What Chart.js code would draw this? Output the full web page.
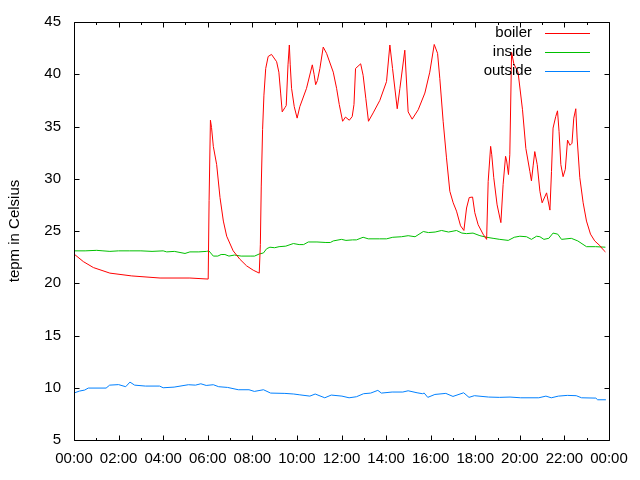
<!DOCTYPE html>
<html>
<head>
<meta charset="utf-8">
<script src="https://cdn.jsdelivr.net/npm/chart.js@4/dist/chart.umd.min.js"></script>
<style>
  html, body { margin: 0; padding: 0; background: #ffffff; }
  #c { display: block; }
</style>
</head>
<body>
<canvas id="c" width="640" height="480"></canvas>
<script>
// ---- data (hours since midnight, degrees Celsius) ----
const seriesLabels = ['boiler', 'inside', 'outside'];
const seriesColors = ['#ff0000', '#00c000', '#0080ff'];

const boilerHours = [0.00,0.42,0.87,1.61,2.59,3.86,5.20,6.02,6.06,6.12,6.17,6.25,6.40,6.55,6.70,6.85,7.14,7.44,7.74,8.04,8.31,8.36,8.40,8.46,8.52,8.60,8.71,8.86,9.09,9.19,9.27,9.34,9.46,9.52,9.60,9.66,9.70,9.76,9.88,10.01,10.13,10.43,10.69,10.77,10.84,10.92,11.03,11.18,11.33,11.63,11.78,11.90,12.05,12.18,12.35,12.48,12.56,12.63,12.86,12.97,13.09,13.21,13.42,13.72,14.02,14.17,14.29,14.50,14.62,14.84,14.99,15.17,15.44,15.74,15.96,16.16,16.31,16.41,16.56,16.71,16.86,17.01,17.16,17.34,17.49,17.61,17.73,17.88,17.98,18.13,18.35,18.51,18.58,18.69,18.74,18.83,18.98,19.15,19.25,19.36,19.41,19.49,19.55,19.63,19.73,19.92,20.12,20.27,20.45,20.52,20.60,20.67,20.78,20.90,21.00,21.20,21.35,21.42,21.49,21.61,21.69,21.76,21.84,21.94,22.04,22.14,22.25,22.34,22.42,22.51,22.57,22.69,22.84,22.99,23.17,23.36,23.59,23.74,23.84];
const boilerTemps = [22.8,22.07,21.5,20.97,20.7,20.5,20.5,20.4,27.9,35.6,34.9,33.1,31.35,28.2,25.95,24.5,23.1,22.3,21.67,21.25,20.97,23.7,29.3,34.7,38.0,40.55,41.7,41.9,41.2,40.2,38.2,36.4,36.8,37.0,40.9,42.8,40.9,38.65,36.9,35.8,36.9,38.65,40.9,40.0,39.0,39.4,40.55,42.6,42.0,40.2,38.65,37.1,35.5,35.9,35.6,35.95,37.1,40.55,41.0,39.9,37.7,35.5,36.3,37.5,39.3,42.8,40.55,36.7,38.65,42.3,36.4,35.7,36.6,38.2,40.2,42.85,42.0,39.6,35.5,32.0,28.8,27.7,26.9,25.5,25.05,27.2,28.2,28.25,26.75,25.6,24.7,24.2,29.75,33.1,32.3,30.1,27.5,25.8,29.45,32.15,31.7,30.4,32.3,42.1,41.0,40.2,36.6,32.9,30.7,29.8,31.3,32.6,31.35,28.8,27.7,28.65,27.0,30.7,34.85,35.95,36.5,34.5,31.35,30.2,30.9,33.7,33.2,33.4,35.8,36.7,33.9,30.1,27.7,25.95,24.7,24.05,23.6,23.2,23.0];

const insideHours = [0.00,0.50,1.02,1.30,1.61,2.00,2.50,3.00,3.50,4.00,4.16,4.50,4.98,5.20,5.60,5.95,6.05,6.25,6.45,6.60,6.77,6.95,7.20,7.50,7.90,8.10,8.31,8.50,8.64,8.79,9.00,9.20,9.50,9.84,10.10,10.30,10.51,10.90,11.30,11.50,11.63,12.00,12.20,12.50,12.67,12.97,13.20,13.70,14.02,14.30,14.69,14.99,15.30,15.67,15.90,16.20,16.49,16.80,17.16,17.40,17.61,17.90,18.21,18.51,18.80,19.10,19.48,19.75,20.00,20.30,20.52,20.75,20.90,21.08,21.30,21.49,21.70,21.87,22.31,22.60,22.99,23.40,23.84];
const insideTemps = [23.1,23.1,23.15,23.1,23.05,23.1,23.1,23.1,23.05,23.1,23.0,23.05,22.85,23.0,23.0,23.05,23.1,22.6,22.6,22.75,22.75,22.6,22.7,22.6,22.6,22.6,22.8,22.9,23.3,23.45,23.4,23.5,23.55,23.8,23.7,23.7,23.95,23.95,23.9,23.9,24.05,24.2,24.1,24.15,24.15,24.4,24.25,24.25,24.25,24.4,24.45,24.55,24.45,24.95,24.85,24.9,25.05,24.9,25.05,24.8,24.75,24.8,24.55,24.4,24.3,24.2,24.1,24.4,24.5,24.45,24.2,24.5,24.45,24.2,24.3,24.8,24.7,24.2,24.3,24.05,23.5,23.5,23.45];

const outsideHours = [0.03,0.24,0.48,0.64,1.44,1.60,2.00,2.32,2.51,2.72,3.20,3.84,4.00,4.49,5.13,5.45,5.69,5.93,6.25,6.49,6.89,7.37,7.85,8.09,8.50,8.82,9.46,9.86,10.10,10.58,10.82,11.25,11.54,12.02,12.34,12.67,12.99,13.31,13.63,13.79,14.27,14.75,14.99,15.39,15.63,15.71,15.87,16.19,16.68,17.00,17.48,17.72,17.96,18.60,19.08,19.56,20.04,20.85,21.17,21.41,21.73,22.13,22.53,22.77,23.41,23.49,23.86];
const outsideTemps = [9.52,9.68,9.78,9.97,9.97,10.25,10.3,10.1,10.54,10.25,10.16,10.16,10.0,10.06,10.29,10.25,10.38,10.22,10.29,10.1,10.03,9.81,9.81,9.65,9.81,9.49,9.46,9.4,9.33,9.2,9.4,9.04,9.3,9.2,9.04,9.14,9.43,9.49,9.75,9.49,9.59,9.59,9.71,9.52,9.43,9.49,9.08,9.36,9.46,9.17,9.52,9.08,9.24,9.11,9.08,9.11,9.04,9.04,9.2,9.04,9.2,9.27,9.24,9.04,9.01,8.85,8.85];

const xTickHours = [0, 2, 4, 6, 8, 10, 12, 14, 16, 18, 20, 22, 24];
const yTickValues = [5, 10, 15, 20, 25, 30, 35, 40, 45];
const yAxisTitle = 'tepm in Celsius';

// ---- build ----
function pts(xs, ys) { return xs.map((x, i) => ({ x: x, y: ys[i] })); }
function hhmm(h) { return String(h % 24).padStart(2, '0') + ':00'; }

const FONT = 'Liberation Sans, Arial, sans-serif';

const gnuplotFrame = {
  id: 'gnuplotFrame',
  afterDatasetsDraw(chart) {
    const ctx = chart.ctx;
    const a = chart.chartArea;
    const xs = chart.scales.x, ys = chart.scales.y;
    ctx.save();
    ctx.strokeStyle = '#000';
    ctx.lineWidth = 1;
    ctx.beginPath();
    const L = Math.round(a.left) + 0.5, R = Math.round(a.right) + 0.5;
    const T = Math.round(a.top) + 0.5, B = Math.round(a.bottom) + 0.5;
    ctx.rect(L, T, R - L, B - T);
    // x ticks: major each labelled hour, minor in between
    for (let h = xs.min; h <= xs.max; h += 1) {
      const px = Math.round(xs.getPixelForValue(h)) + 0.5;
      const len = (h % 2 === 0) ? 5 : 2.5;
      ctx.moveTo(px, B); ctx.lineTo(px, B - len);
      ctx.moveTo(px, T); ctx.lineTo(px, T + len);
    }
    ys.ticks.forEach(t => {
      const py = Math.round(ys.getPixelForValue(t.value)) + 0.5;
      ctx.moveTo(L, py); ctx.lineTo(L + 5, py);
      ctx.moveTo(R, py); ctx.lineTo(R - 5, py);
    });
    ctx.stroke();

    // legend (gnuplot style: text right-aligned, sample line to its right)
    ctx.font = '15px ' + FONT;
    ctx.textAlign = 'right';
    ctx.textBaseline = 'middle';
    chart.data.datasets.forEach((ds, i) => {
      const y = 33 + i * 19;
      ctx.fillStyle = '#000';
      ctx.fillText(ds.label, 532, y);
      ctx.strokeStyle = ds.borderColor;
      ctx.beginPath();
      ctx.moveTo(545, Math.round(y) + 0.5);
      ctx.lineTo(590, Math.round(y) + 0.5);
      ctx.stroke();
    });
    ctx.restore();
  }
};

const datasets = [
  pts(boilerHours, boilerTemps),
  pts(insideHours, insideTemps),
  pts(outsideHours, outsideTemps)
].map((d, i) => ({
  label: seriesLabels[i],
  data: d,
  borderColor: seriesColors[i],
  backgroundColor: seriesColors[i],
  borderWidth: 1,
  pointRadius: 0,
  tension: 0,
  fill: false
}));

new Chart(document.getElementById('c'), {
  type: 'line',
  data: { datasets: datasets },
  options: {
    responsive: false,
    animation: false,
    parsing: true,
    layout: { padding: { top: 20, right: 31, left: 0, bottom: 0 } },
    plugins: {
      legend: { display: false },
      tooltip: { enabled: false }
    },
    scales: {
      x: {
        type: 'linear',
        min: 0, max: 24,
        afterFit(s) { s.height = 40; },
        afterBuildTicks(s) { s.ticks = xTickHours.map(v => ({ value: v })); },
        grid: { display: false, drawTicks: false },
        border: { display: false },
        ticks: {
          autoSkip: false, maxRotation: 0, padding: 10,
          color: '#000', font: { family: FONT, size: 15 },
          callback: v => hhmm(v)
        }
      },
      y: {
        min: 5, max: 45,
        afterFit(s) { s.width = 74; },
        afterBuildTicks(s) { s.ticks = yTickValues.map(v => ({ value: v })); },
        grid: { display: false, drawTicks: false },
        border: { display: false },
        ticks: { padding: 13, color: '#000', font: { family: FONT, size: 15 } },
        title: {
          display: true, text: yAxisTitle, color: '#000',
          font: { family: FONT, size: 15 }, padding: { top: 6, bottom: 0 }
        }
      }
    }
  },
  plugins: [gnuplotFrame]
});
</script>
</body>
</html>
